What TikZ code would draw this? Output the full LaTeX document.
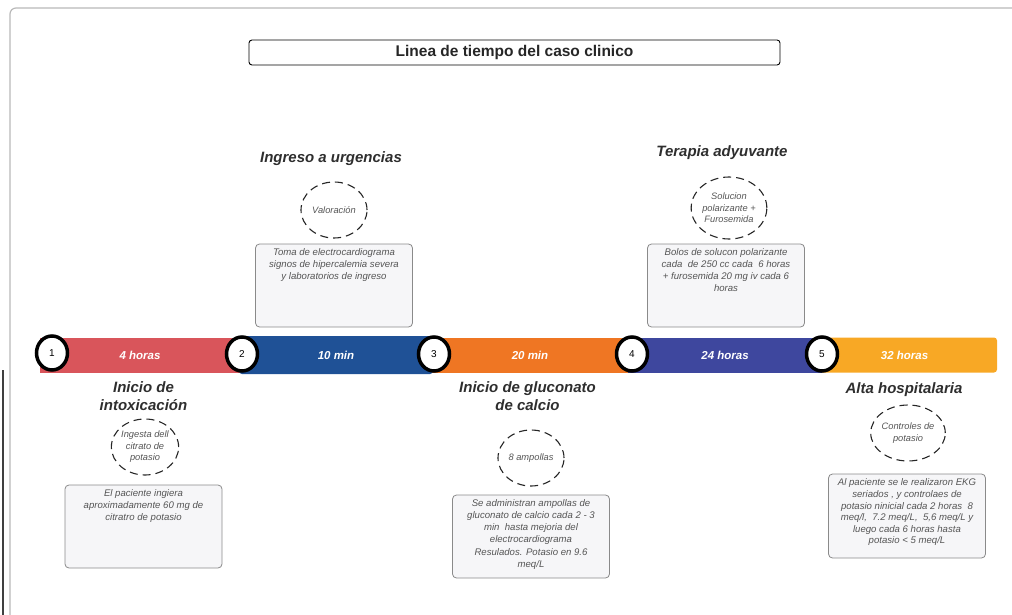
\documentclass[tikz,border=0pt]{standalone}
\usepackage{fontspec}
\setmainfont{Liberation Sans}
\usetikzlibrary{shapes.geometric,positioning}
\definecolor{segred}{HTML}{D9555B}
\definecolor{segblue}{HTML}{1F5196}
\definecolor{segorange}{HTML}{EF7623}
\definecolor{segpurple}{HTML}{3E479E}
\definecolor{segamber}{HTML}{F8A825}
\definecolor{headgray}{HTML}{2E2E2E}
\definecolor{bodygray}{HTML}{555555}
\definecolor{boxfill}{HTML}{F6F6F8}
\definecolor{boxline}{HTML}{8A8A8A}
\begin{document}
\begin{tikzpicture}[x=1pt,y=-1pt,every node/.style={inner sep=0pt,outer sep=0pt},
seg/.style={rectangle,minimum height=35pt,text=white,font=\fontsize{11.5}{13}\selectfont\bfseries\itshape},
num/.style={ellipse,draw=black,line width=3.5pt,fill=white,minimum width=31pt,minimum height=34pt,font=\fontsize{10}{11}\selectfont},
heading/.style={text=headgray,align=center,font=\fontsize{15}{18}\selectfont\bfseries\itshape},
dashcirc/.style={ellipse,draw=black!85,dash pattern=on 8pt off 5pt,line width=1.1pt,minimum width=66pt,minimum height=56pt,align=center,text=bodygray,font=\fontsize{9.3}{11.5}\selectfont\itshape},
infobox/.style={rectangle,rounded corners=4pt,draw=boxline,fill=boxfill,line width=0.8pt,minimum width=157pt,minimum height=83pt},
boxtext/.style={align=center,text=bodygray,font=\fontsize{9.6}{12}\selectfont\itshape}]
\useasboundingbox (0,0) rectangle (1012,615);

% frame
\draw[gray!55,line width=1.2pt,rounded corners=6pt] (10,8) rectangle (1040,650);
\draw[black!75,line width=1.2pt] (3,370) -- (3,615);

% title
\node[draw,rounded corners=3pt,line width=0.9pt,minimum width=531pt,minimum height=25pt,font=\fontsize{15.5}{17}\selectfont\bfseries,text=black!85] (title) at (514.5,52.5) {Linea de tiempo del caso clinico};

% bar
\node[seg,fill=segamber,minimum width=185pt,rounded corners=3pt] (seg5) at (904.5,355) {32 horas};
\node[seg,fill=segred,minimum width=200pt] (seg1) at (140,355) {4 horas};
\node[seg,fill=segorange,minimum width=196pt] (seg3) at (530,355) {20 min};
\node[seg,fill=segpurple,minimum width=194pt] (seg4) at (725,355) {24 horas};
\node[seg,fill=segblue,minimum width=194pt,minimum height=38pt,rounded corners=3pt] (seg2) at (336,355) {10 min};

\node[num] (n1) at (52,353) {1};
\node[num] (n2) at (242,354) {2};
\node[num] (n3) at (434,354) {3};
\node[num] (n4) at (632,354) {4};
\node[num] (n5) at (822,354) {5};

% events
\node[heading] (h1) at (143.5,396.5) {Inicio de\\intoxicación};
\node[heading] (h2) at (331,159) {Ingreso a urgencias};
\node[heading] (h3) at (527.5,396.5) {Inicio de gluconato\\de calcio};
\node[heading] (h4) at (722,153) {Terapia adyuvante};
\node[heading] (h5) at (904,390) {Alta hospitalaria};

\node[dashcirc] (c1) at (145,447) {Ingesta dell\\citrato de\\potasio};
\node[dashcirc] (c2) at (334,210) {Valoración};
\node[dashcirc] (c3) at (531,458) {8 ampollas};
\node[dashcirc,minimum width=72pt,minimum height=62pt] (c4) at (729,208) {Solucion\\polarizante +\\Furosemida};
\node[dashcirc] (c5) at (908,433) {Controles de\\potasio};

% boxes
\node[infobox] (b1) at (143.5,526.5) {};
\node[infobox] (b2) at (334,285.5) {};
\node[infobox] (b3) at (531,536.5) {};
\node[infobox] (b4) at (726,285.5) {};
\node[infobox,minimum height=84pt] (b5) at (907,516) {};

\node[boxtext,below=5pt of b1.north] (t1) {El paciente ingiera\\aproximadamente 60 mg de\\citratro de potasio};
\node[boxtext,below=5pt of b2.north] (t2) {Toma de electrocardiograma\\signos de hipercalemia severa\\y laboratorios de ingreso};
\node[boxtext,below=5pt of b3.north] (t3) {Se administran ampollas de\\gluconato de calcio cada 2 - 3\\min \ hasta mejoria del\\electrocardiograma\\[1pt]Resulados. Potasio en 9.6\\meq/L};
\node[boxtext,below=5pt of b4.north] (t4) {Bolos de solucon polarizante\\cada \ de 250 cc cada \ 6 horas\\+ furosemida 20 mg iv cada 6\\horas};
\node[boxtext,below=5pt of b5.north,font=\fontsize{9.6}{11.6}\selectfont\itshape] (t5) {Al paciente se le realizaron EKG\\seriados , y controlaes de\\potasio ninicial cada 2 horas \ 8\\meq/l, \ 7.2 meq/L, \ 5,6 meq/L y\\luego cada 6 horas hasta\\potasio < 5 meq/L};

\end{tikzpicture}
\end{document}
